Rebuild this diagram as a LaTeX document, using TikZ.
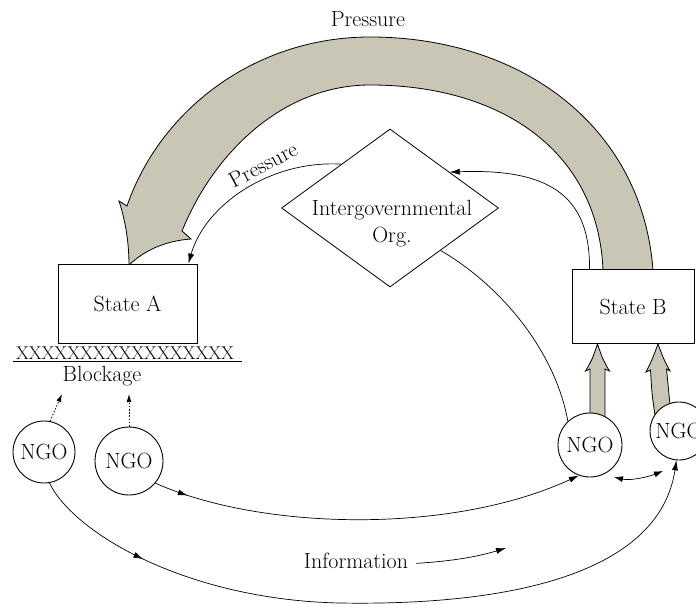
\documentclass[tikz,border=0pt]{standalone}
\usetikzlibrary{arrows.meta,shapes.geometric,decorations.markings,calc,backgrounds}
\definecolor{bandgray}{RGB}{201,198,182}
\begin{document}
\begin{tikzpicture}[x=1pt,y=-1pt]
\tikzset{
 txt/.style={font=\fontsize{22}{27}\selectfont},
 statebox/.style={draw, line width=0.9pt, fill=white, txt, inner sep=0pt},
 ngo/.style={circle, draw, line width=0.9pt, fill=white, txt, inner sep=0pt},
 conn/.style={line width=0.7pt},
 thintip/.style={-{Latex[length=10pt,width=6pt]}},
 bandshape/.style={fill=bandgray, draw=black, line width=0.8pt},
 midarrow/.style={postaction={decorate}, decoration={markings, mark=at position #1 with {\arrow{Latex[length=10pt,width=6pt]}}}},
 dotarrow/.style={line width=0.8pt, dash pattern=on 1.6pt off 1.6pt, -{Latex[length=8pt,width=5pt]}}
}
\useasboundingbox (0,0) rectangle (696,604);

% nodes
\node[statebox, minimum width=139pt, minimum height=79pt] (stateA) at (127.5,303.5) {State A};
\node[statebox, minimum width=122pt, minimum height=74pt] (stateB) at (633,306.5) {State B};
\node[diamond, draw, line width=0.8pt, fill=white, minimum width=217pt, minimum height=158pt, inner sep=0pt] (igo) at (390,208) {};
\node[txt, align=center, inner sep=0pt] (igotext) at (392,223.5) {Intergovernmental\\Org.};
\node[ngo, minimum size=62pt] (ngo1) at (44,452) {NGO};
\node[ngo, minimum size=68pt] (ngo2) at (129,461) {NGO};
\node[ngo, minimum size=64pt] (ngo3) at (590,445) {NGO};
\node[ngo, minimum size=58pt] (ngo4) at (679,431) {NGO};
\node[font=\fontsize{18.5}{20}\selectfont, inner sep=0pt, anchor=base] (hatch) at (125,359) {XXXXXXXXXXXXXXXXX};
\node[txt, anchor=base, inner sep=0pt] (block) at (102,381) {Blockage};
\node[txt, anchor=base, inner sep=0pt] (ptop) at (368,27) {Pressure};
\node[txt, rotate=28, inner sep=0pt] (plabel) at (263,165) {Pressure};
\node[txt, anchor=base, inner sep=0pt] (info) at (356,568) {Information};

\coordinate (ul1) at (13,361.5);
\coordinate (ul2) at (242,361.5);
\coordinate (bk1) at (62,394);
\coordinate (da1) at (614,477);
\coordinate (da2) at (663,471);
\coordinate (infoend) at (506,548);

% gray bands
\begin{scope}[on background layer]
\draw[bandshape] (603,270) -- (653,270) .. controls (642,125) and (520,37) .. (370,37)
  .. controls (255,37) and (160,110) .. (127,206) -- (119,201)
  .. controls (126,222) and (129,245) .. (129,265)
  .. controls (145,250) and (165,241) .. (191,239) -- (182,231)
  .. controls (215,150) and (285,85) .. (370,85)
  .. controls (500,85) and (598,150) .. (603,270) -- cycle;
\draw[bandshape] (590,420) -- (590,369) -- (585.5,371) .. controls (592,360) .. (597.5,344)
  .. controls (603,360) .. (609.5,371) -- (605,369) -- (605,420) -- cycle;
\draw[bandshape] (655,415) .. controls (652,395) .. (650.5,370) -- (646,372)
  .. controls (652,360) .. (658,344) .. controls (664,360) .. (670,371) -- (666.5,369)
  .. controls (668,392) .. (671,415) -- cycle;
\end{scope}

% blockage line
\draw[line width=0.9pt] (ul1) -- (ul2);

% thin connectors
\draw[conn, thintip] (igo.138) .. controls (270,160) and (205,205) .. ([xshift=-9pt]stateA.north east);
\draw[conn, thintip] ([xshift=18pt]stateB.north west) .. controls (590,200) and (555,168) .. (igo.31);
\draw[conn] (igo.-40) .. controls (500,285) and (555,350) .. (ngo3.133);
\draw[conn, thintip, midarrow=0.08] (ngo2.-40) .. controls (260,530) and (450,535) .. (ngo3.-110);
\draw[conn, {Latex[length=9pt,width=6pt]}-{Latex[length=9pt,width=6pt]}] (da1) .. controls (630,481) and (648,477) .. (da2);
\draw[conn, thintip, midarrow=0.17] (ngo1.-80) .. controls (75,535) and (190,600) .. (340,603)
  .. controls (520,606) and (660,570) .. (ngo4.-95);
\draw[conn, thintip] ([xshift=8pt,yshift=-3pt]info.east) .. controls (455,561) and (480,556) .. (infoend);

% dotted arrows
\draw[dotarrow] (ngo1.79) -- (bk1);
\draw[dotarrow] (ngo2.north) -- (ngo2.north |- bk1);
\end{tikzpicture}
\end{document}
